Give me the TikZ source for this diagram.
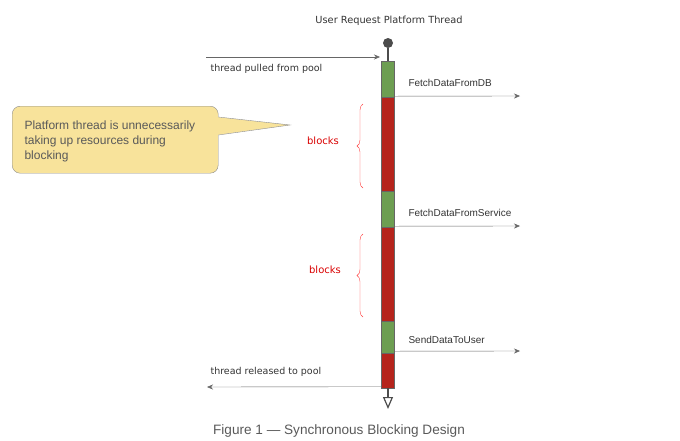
\documentclass[tikz,border=0pt]{standalone}
\usepackage{fontspec}
\setmainfont{Liberation Sans}
\newfontfamily\handfont{DejaVu Sans}
\usepackage{tikz}
\usetikzlibrary{arrows}
\usetikzlibrary{arrows.meta}
\usetikzlibrary{decorations.pathreplacing}
\definecolor{runcol}{HTML}{6D9E52}
\definecolor{blockcol}{HTML}{B5241C}
\definecolor{notecol}{HTML}{F8E39B}
\definecolor{linecol}{HTML}{666666}
\begin{document}
\begin{tikzpicture}[x=1pt,y=-1pt,>={Stealth[length=6pt,width=5pt]},font=\fontsize{10}{12}\selectfont,text=black!80]
			\useasboundingbox (0,0) rectangle (680,440);
			\node (title) at (389,21) {\handfont\fontsize{9.8}{12}\selectfont User Request Platform Thread};
			\node[circle,fill=black!70,inner sep=0pt,minimum size=10pt] (start) at (388,43) {};
			\foreach \i/\ya/\yb/\c in {1/61/97/runcol,2/97/191/blockcol,3/191/227/runcol,4/227/321/blockcol,5/321/353/runcol,6/353/388/blockcol} {
				\pgfmathsetmacro{\h}{\yb - \ya}
				\node[rectangle,draw=black!60,fill=\c,inner sep=0pt,minimum width=13pt,minimum height=\h pt] (S\i) at (388,{(\ya+\yb)/2}) {};
			}
			\coordinate (finish) at (388,409);
			\draw[black!70,line width=1.2pt] (start) -- (S1.north);
			\draw[black!70,line width=1.2pt,-{Triangle[open,width=10pt,length=12pt]}] (S6.south) -- (finish);
			% pool
			\coordinate (pullfrom) at (206,57);
			\coordinate (pullto) at (380,57);
			\coordinate (relto) at (207,387);
			\draw[->,linecol] (pullfrom) -- (pullto);
			\node[anchor=west] (pulled) at (207,69) {\handfont\fontsize{9.5}{12}\selectfont thread pulled from pool};
			\draw[->,linecol] ([yshift=1.5pt]S6.south west) -- (relto);
			\node[anchor=west] (released) at (207,372) {\handfont\fontsize{9.5}{12}\selectfont thread released to pool};
			% calls
			\coordinate (c1) at (520,96);
			\coordinate (c2) at (520,226);
			\coordinate (c3) at (520,351);
			\draw[->,linecol] ([yshift=1pt]S1.south east) -- (c1);
			\draw[->,linecol] ([yshift=1pt]S3.south east) -- (c2);
			\draw[->,linecol] ([yshift=2pt]S5.south east) -- (c3);
			\node[anchor=west] (fetchdb) at (405,83) {FetchDataFromDB};
			\node[anchor=west] (fetchsvc) at (405,213) {FetchDataFromService};
			\node[anchor=west] (senduser) at (405,340) {SendDataToUser};
			% blocks
			\draw[red!75,decorate,decoration={brace,amplitude=6pt}] (363,188) -- (363,104);
			\draw[red!75,decorate,decoration={brace,amplitude=6pt}] (363,317) -- (363,234);
			\node[text=red!85!black] (blk1) at (323,141) {\handfont\fontsize{10}{12}\selectfont blocks};
			\node[text=red!85!black] (blk2) at (325,270) {\handfont\fontsize{10}{12}\selectfont blocks};
			% callout
			\node[rectangle,rounded corners=8pt,draw=black!45,fill=notecol,minimum width=206pt,minimum height=67pt,anchor=north west] (note) at (12,106) {};
			\coordinate (tip) at (290,125);
			\fill[notecol] (217,117) -- (tip) -- (217,135) -- cycle;
			\draw[black!45] (note.east |- 0,117) -- (tip) -- (note.east |- 0,135);
			\node[anchor=north west,align=left,text=black!65,font=\fontsize{12}{15}\selectfont] (notetext) at (21,117) {Platform thread is unnecessarily\\taking up resources during\\blocking};
			\node[text=black!65] (caption) at (339,431) {\fontsize{13.6}{15}\selectfont Figure 1 --- Synchronous Blocking Design};
		\end{tikzpicture}
\end{document}
